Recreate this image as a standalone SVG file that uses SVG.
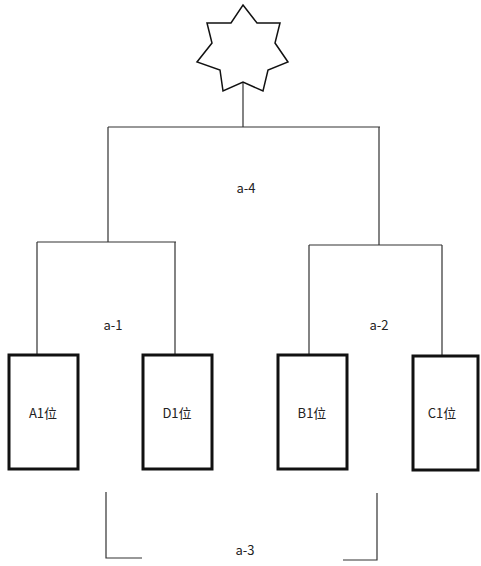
<svg xmlns="http://www.w3.org/2000/svg" width="481" height="566" viewBox="0 0 481 566">
<style>
.ln{stroke:#333;stroke-width:1.2;fill:none}
.box{fill:#fff;stroke:#111;stroke-width:3}
.t{font-family:"Noto Sans CJK SC","Noto Sans",sans-serif;font-size:13px;fill:#222;text-anchor:middle;dominant-baseline:central}
</style>
<rect width="481" height="566" fill="#fff"/>
<g id="connectors">
<path class="ln" d="M243,82V127M108,127H380M108,127V242M379,127V245M37,242H176M37,242V355M175,242V355M309,245H442M309,245V355M442,245V355"/>
<path class="ln" d="M106,492V558H142M377,493V560H343"/>
</g>
<g id="star">
<polygon fill="#fff" stroke="#111" stroke-width="1.5" points="243,5 257,23 280,23 275,43 288,62 268,70 263,91 243,82 223,91 220,70 197,62 212,43 207,23 231,23"/>
</g>
<g id="A1"><rect class="box" x="9" y="355" width="69" height="114"/><text class="t" x="43" y="412">A1位</text></g>
<g id="D1"><rect class="box" x="143" y="355" width="69" height="114"/><text class="t" x="177" y="412">D1位</text></g>
<g id="B1"><rect class="box" x="278" y="355" width="69" height="114"/><text class="t" x="312" y="412">B1位</text></g>
<g id="C1"><rect class="box" x="413" y="356" width="65" height="114"/><text class="t" x="442" y="412">C1位</text></g>
<g id="labels">
<text class="t" x="246" y="187">a-4</text>
<text class="t" x="113" y="324">a-1</text>
<text class="t" x="379" y="324">a-2</text>
<text class="t" x="245" y="549">a-3</text>
</g>
</svg>
